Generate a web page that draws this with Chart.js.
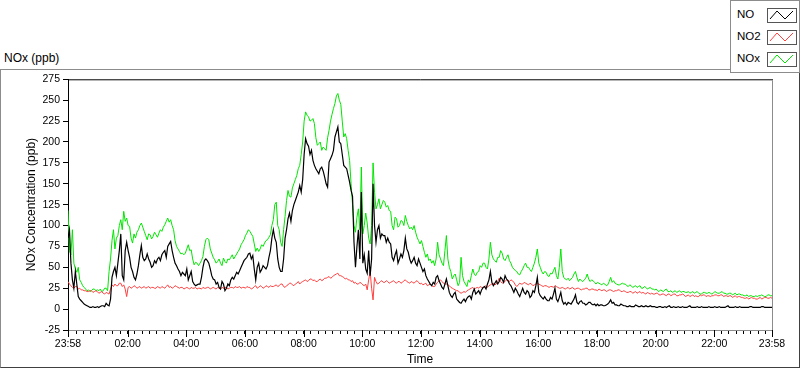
<!DOCTYPE html>
<html>
<head>
<meta charset="utf-8">
<script src="https://cdn.jsdelivr.net/npm/chart.js@4"></script>
<style>
  body { margin: 0; width: 800px; height: 369px; background: #fff; position: relative; overflow: hidden;
         font-family: "Liberation Sans", Arial, sans-serif; color: #000; }
  #title { position: absolute; left: 4px; top: 51px; font-size: 12px; }
  #frame { position: absolute; left: 0; top: 69px; width: 800px; height: 299px; box-sizing: border-box;
           border-top: 1px solid #8c8c8c; border-left: 1px solid #8c8c8c;
           border-right: 1px solid #404040; border-bottom: 1px solid #404040; }
  #chart { position: absolute; left: 0; top: 70px; }
  #legend { position: absolute; left: 730px; top: 0; width: 70px; height: 73px; box-sizing: border-box;
            border: 1px solid #8c8c8c; background: #fff; }
  .row { position: absolute; left: 0; width: 68px; height: 18px; }
  .row span { position: absolute; left: 6px; top: 2px; font-size: 11.5px; }
  .row canvas { position: absolute; left: 36px; top: 0; }
</style>
</head>
<body>
<div id="title">NOx (ppb)</div>
<div id="frame"></div>
<canvas id="chart" width="798" height="297"></canvas>
<div id="legend"></div>

<script>
// === DATA (3-minute steps from 23:58 to 23:58, one row = one hour) ===
const seriesNames = ["NO", "NO2", "NOx"];
const seriesColors = ["#000000", "#ff4040", "#00e600"];

const noValues = [
  85, 95, 55, 35, 25, 45, 30, 15, 12, 10, 8, 6, 5, 4, 3, 2, 2, 3, 2, 2,
  3, 2, 3, 4, 4, 3, 7, 5, 4, 12, 38, 45, 50, 40, 55, 70, 90, 40, 35, 70,
  80, 70, 62, 50, 45, 38, 35, 42, 52, 65, 76, 62, 58, 60, 66, 60, 56, 50, 52, 58,
  55, 60, 62, 58, 65, 68, 70, 62, 75, 78, 81, 70, 62, 55, 52, 48, 45, 40, 44, 42,
  40, 48, 35, 40, 45, 33, 30, 28, 29, 30, 30, 38, 50, 58, 60, 58, 55, 48, 40, 36,
  35, 30, 32, 26, 24, 33, 30, 22, 25, 30, 28, 35, 38, 36, 40, 44, 42, 46, 50, 54,
  58, 60, 62, 66, 67, 60, 64, 48, 35, 50, 55, 44, 47, 52, 50, 48, 52, 62, 70, 85,
  95, 85, 80, 60, 50, 45, 45, 60, 85, 95, 108, 115, 105, 118, 125, 130, 135, 140, 148, 140,
  155, 185, 204, 198, 195, 185, 190, 178, 172, 168, 165, 162, 168, 170, 165, 158, 150, 146, 176, 180,
  184, 190, 206, 212, 218, 200, 198, 185, 172, 170, 168, 160, 152, 142, 135, 80, 50, 75, 95, 60,
  140, 55, 65, 48, 43, 70, 40, 60, 150, 100, 80, 95, 100, 85, 90, 88, 88, 80, 85, 80,
  78, 62, 58, 65, 70, 55, 60, 66, 62, 70, 85, 72, 68, 60, 55, 58, 62, 55, 52, 60,
  55, 50, 45, 48, 40, 36, 33, 30, 28, 32, 30, 38, 40, 34, 30, 26, 24, 30, 36, 28,
  20, 16, 14, 18, 20, 12, 10, 8, 7, 10, 12, 9, 13, 15, 16, 12, 20, 24, 18, 20,
  22, 18, 23, 26, 27, 24, 30, 35, 45, 32, 28, 31, 34, 30, 33, 38, 36, 32, 40, 36,
  34, 30, 28, 24, 20, 25, 22, 18, 15, 20, 25, 20, 18, 22, 20, 14, 16, 22, 20, 28,
  38, 20, 16, 14, 12, 15, 12, 10, 10, 14, 12, 18, 25, 12, 9, 14, 20, 10, 6, 8,
  5, 8, 7, 6, 9, 12, 17, 8, 6, 9, 10, 7, 7, 5, 6, 8, 8, 6, 5, 6,
  4, 6, 4, 5, 5, 4, 4, 5, 6, 8, 11, 7, 8, 5, 5, 4, 4, 6, 5, 4,
  4, 3, 3, 4, 3, 3, 3, 5, 4, 3, 3, 4, 3, 3, 4, 3, 3, 4, 3, 3,
  3, 2, 2, 3, 3, 2, 2, 3, 2, 3, 4, 2, 2, 3, 2, 2, 3, 2, 2, 3,
  2, 2, 2, 3, 4, 2, 2, 2, 2, 3, 2, 2, 3, 2, 2, 2, 2, 3, 2, 2,
  2, 3, 2, 2, 3, 2, 2, 2, 2, 3, 4, 2, 2, 2, 2, 3, 2, 2, 3, 2,
  2, 2, 2, 2, 2, 3, 3, 2, 2, 2, 2, 2, 2, 3, 3, 2, 2, 2, 2, 2,
  2
];

const no2Values = [
  33, 30, 28, 26, 25, 27, 27, 24, 25, 23, 23, 22, 22, 21, 21, 22, 22, 20, 21, 22,
  21, 19, 20, 21, 19, 18, 20, 19, 18, 24, 29, 27, 30, 28, 28, 31, 31, 27, 29, 24,
  15, 26, 27, 25, 26, 28, 27, 25, 26, 27, 25, 26, 27, 25, 26, 27, 25, 26, 26, 25,
  25, 27, 26, 25, 27, 26, 25, 27, 29, 26, 27, 25, 26, 28, 27, 26, 25, 26, 26, 24,
  25, 26, 25, 24, 26, 25, 25, 26, 24, 25, 25, 24, 26, 25, 25, 26, 26, 24, 25, 26,
  25, 24, 26, 25, 24, 26, 25, 26, 26, 24, 25, 26, 26, 25, 27, 26, 26, 27, 25, 26,
  26, 25, 27, 26, 26, 24, 25, 27, 28, 25, 26, 28, 27, 25, 26, 28, 27, 26, 28, 27,
  27, 28, 29, 27, 28, 30, 30, 27, 26, 28, 29, 31, 31, 29, 28, 30, 31, 33, 30, 32,
  33, 34, 35, 33, 34, 36, 36, 34, 35, 33, 33, 35, 36, 34, 35, 37, 37, 38, 39, 37,
  38, 40, 41, 42, 43, 40, 40, 39, 38, 36, 37, 35, 35, 33, 34, 31, 32, 30, 30, 32,
  31, 29, 28, 30, 23, 35, 45, 25, 11, 38, 33, 30, 31, 33, 34, 32, 32, 34, 33, 31,
  32, 33, 34, 32, 31, 33, 33, 31, 32, 34, 35, 33, 32, 31, 33, 32, 31, 33, 34, 32,
  30, 31, 29, 30, 31, 28, 29, 30, 28, 27, 27, 30, 32, 34, 35, 33, 31, 30, 30, 29,
  28, 26, 25, 24, 23, 22, 22, 20, 19, 20, 21, 20, 22, 23, 24, 25, 26, 24, 25, 26,
  25, 27, 26, 25, 27, 28, 26, 28, 29, 30, 31, 29, 30, 33, 37, 33, 31, 32, 33, 35,
  34, 33, 35, 34, 32, 29, 27, 29, 31, 30, 30, 32, 31, 30, 29, 31, 30, 28, 29, 30,
  31, 30, 29, 28, 27, 28, 28, 27, 26, 27, 27, 26, 28, 27, 26, 25, 25, 26, 25, 24,
  25, 26, 24, 25, 26, 24, 24, 25, 25, 24, 23, 24, 24, 25, 25, 23, 23, 24, 24, 23,
  23, 22, 24, 23, 22, 23, 23, 21, 22, 23, 23, 22, 21, 22, 22, 23, 23, 21, 21, 22,
  21, 20, 20, 21, 21, 19, 20, 21, 19, 20, 21, 19, 20, 19, 18, 20, 19, 18, 19, 18,
  18, 19, 19, 17, 17, 18, 18, 17, 16, 18, 18, 16, 17, 18, 18, 16, 16, 17, 17, 18,
  17, 15, 16, 17, 15, 16, 17, 15, 16, 15, 15, 17, 16, 17, 17, 15, 16, 16, 15, 16,
  16, 17, 17, 16, 16, 17, 17, 15, 16, 16, 15, 16, 16, 14, 15, 16, 14, 15, 15, 14,
  14, 13, 13, 14, 12, 13, 14, 13, 13, 12, 12, 13, 14, 12, 13, 14, 14, 13, 13, 14,
  13
];

const noxValues = [
  118, 70, 65, 95, 55, 48, 44, 50, 35, 32, 28, 26, 24, 22, 23, 21, 22, 24, 24, 22,
  23, 22, 24, 21, 22, 25, 25, 22, 45, 60, 82, 95, 72, 85, 88, 100, 107, 95, 117, 105,
  109, 100, 99, 85, 79, 90, 85, 92, 95, 100, 103, 98, 93, 88, 83, 90, 89, 84, 87, 92,
  89, 86, 91, 95, 93, 98, 101, 105, 109, 104, 107, 100, 95, 82, 75, 72, 69, 66, 67, 65,
  67, 72, 77, 70, 71, 60, 53, 56, 55, 52, 55, 58, 63, 75, 83, 85, 83, 72, 67, 62,
  59, 55, 57, 60, 55, 52, 61, 57, 55, 60, 59, 62, 65, 60, 63, 66, 69, 72, 77, 80,
  83, 88, 91, 95, 93, 90, 87, 78, 69, 73, 69, 72, 77, 75, 79, 82, 83, 86, 89, 100,
  107, 125, 128, 100, 95, 80, 75, 95, 111, 130, 142, 135, 134, 145, 150, 155, 160, 168, 172, 185,
  200, 225, 236, 232, 230, 225, 226, 228, 222, 205, 196, 198, 200, 190, 194, 192, 190, 205, 214, 225,
  233, 240, 246, 255, 258, 250, 245, 225, 206, 210, 204, 190, 178, 150, 125, 100, 92, 110, 120, 95,
  170, 90, 100, 115, 103, 85, 78, 100, 175, 140, 120, 125, 132, 120, 125, 130, 128, 122, 124, 118,
  117, 100, 95, 110, 108, 98, 100, 106, 105, 100, 112, 105, 100, 96, 98, 95, 100, 92, 86, 82,
  78, 82, 75, 68, 62, 66, 58, 60, 55, 58, 52, 60, 80, 65, 60, 55, 52, 70, 88, 60,
  50, 45, 36, 40, 42, 35, 28, 32, 62, 40, 33, 30, 27, 35, 32, 40, 48, 42, 40, 44,
  45, 52, 50, 55, 55, 50, 48, 60, 80, 65, 60, 58, 56, 62, 62, 70, 67, 60, 58, 62,
  65, 58, 55, 50, 48, 46, 45, 42, 41, 45, 48, 52, 55, 50, 50, 47, 45, 50, 55, 62,
  72, 55, 50, 45, 42, 45, 44, 40, 39, 43, 42, 46, 50, 40, 36, 50, 72, 45, 38, 36,
  35, 37, 34, 36, 38, 42, 45, 38, 33, 36, 34, 33, 35, 37, 42, 36, 33, 35, 34, 32,
  30, 32, 31, 30, 29, 31, 30, 28, 29, 33, 38, 32, 34, 31, 30, 29, 29, 30, 31, 30,
  30, 28, 27, 29, 28, 26, 27, 28, 26, 27, 28, 25, 25, 27, 26, 24, 25, 26, 24, 24,
  23, 24, 22, 21, 23, 22, 21, 23, 24, 21, 21, 22, 20, 21, 22, 20, 21, 22, 20, 21,
  21, 20, 20, 21, 19, 20, 21, 19, 20, 21, 19, 18, 18, 20, 20, 19, 19, 20, 19, 18,
  19, 21, 20, 19, 19, 20, 21, 19, 19, 18, 18, 19, 19, 17, 18, 19, 17, 18, 18, 17,
  17, 16, 16, 17, 15, 16, 16, 15, 15, 16, 15, 16, 16, 17, 16, 15, 15, 17, 17, 16,
  16
];

// time of each sample, minutes after midnight (23:58 = -2)
const startMinute = -2;
const stepMinutes = 3;
const times = noValues.map((_, i) => startMinute + i * stepMinutes);

// x ticks: 23:58, every 15 min, 23:58
const xTickValues = [-2];
for (let m = 0; m <= 1425; m += 15) xTickValues.push(m);
xTickValues.push(1438);

const yMin = -25, yMax = 275, yStep = 25;

function timeLabel(v) {
  if (v === -2 || v === 1438) return "23:58";
  if (v > 0 && v % 120 === 0) return String(v / 60).padStart(2, "0") + ":00";
  return "";
}
function isMajor(v) {
  return v === -2 || v === 1438 || (v > 0 && v % 120 === 0);
}

// plot frame + longer major ticks
const frameLines = {
  id: "frameLines",
  afterDraw(chart) {
    const { ctx, chartArea: a } = chart;
    const xs = chart.scales.x;
    ctx.save();
    ctx.lineWidth = 1;
    ctx.strokeStyle = "#000";
    ctx.beginPath();
    ctx.moveTo(a.left, a.top + 0.5);
    ctx.lineTo(a.right + 1, a.top + 0.5);
    ctx.stroke();
    ctx.strokeStyle = "#8c8c8c";
    ctx.beginPath();
    ctx.moveTo(a.right + 0.5, a.top + 1);
    ctx.lineTo(a.right + 0.5, a.bottom);
    ctx.stroke();
    ctx.strokeStyle = "#000";
    xTickValues.filter(isMajor).forEach(v => {
      const px = Math.round(xs.getPixelForValue(v)) + 0.5;
      ctx.beginPath();
      ctx.moveTo(px, a.bottom);
      ctx.lineTo(px, a.bottom + 7);
      ctx.stroke();
    });
    ctx.restore();
  }
};

const tickFont = { family: "Liberation Sans, Arial, sans-serif", size: 10.5 };
const titleFont = { family: "Liberation Sans, Arial, sans-serif", size: 12 };

const valueLists = [noValues, no2Values, noxValues];
const datasets = seriesNames.map((name, s) => ({
  label: name,
  data: times.map((t, i) => ({ x: t, y: valueLists[s][i] })),
  borderColor: seriesColors[s],
  borderWidth: s === 0 ? 1.2 : 1,
  pointRadius: 0,
  tension: 0,
  fill: false
}));

new Chart(document.getElementById("chart").getContext("2d"), {
  type: "line",
  data: { datasets },
  options: {
    responsive: false,
    animation: false,
    layout: { padding: { top: 9, right: 26, left: 0, bottom: 0 } },
    plugins: { legend: { display: false }, tooltip: { enabled: false } },
    scales: {
      x: {
        type: "linear",
        min: -2,
        max: 1438,
        afterBuildTicks: s => { s.ticks = xTickValues.map(v => ({ value: v })); },
        afterFit: s => { s.height = 37; },
        ticks: { autoSkip: false, maxRotation: 0, padding: 4, color: "#000", font: tickFont,
                 callback: v => timeLabel(v) },
        grid: { drawOnChartArea: false, drawTicks: true, tickLength: 4, color: "#000" },
        border: { color: "#8c8c8c" },
        title: { display: true, text: "Time", color: "#000", font: titleFont, padding: { top: 0, bottom: 0 } }
      },
      y: {
        min: yMin,
        max: yMax,
        afterFit: s => { s.width = 68; },
        ticks: { stepSize: yStep, padding: 3, color: "#000", font: tickFont },
        grid: { drawOnChartArea: false, drawTicks: true, tickLength: 5, color: "#000" },
        border: { color: "#000" },
        title: { display: true, text: "NOx Concentration (ppb)", color: "#000", font: titleFont,
                 padding: { top: 24, bottom: 0 } }
      }
    }
  },
  plugins: [frameLines]
});

// legend box with zig-zag samples
const legend = document.getElementById("legend");
const rowTops = [5, 27, 49];
seriesNames.forEach((name, s) => {
  const row = document.createElement("div");
  row.className = "row";
  row.style.top = rowTops[s] + "px";
  const label = document.createElement("span");
  label.textContent = name;
  const icon = document.createElement("canvas");
  icon.width = 30; icon.height = 17;
  row.appendChild(label);
  row.appendChild(icon);
  legend.appendChild(row);
  const c = icon.getContext("2d");
  c.strokeStyle = "#555";
  c.strokeRect(0.5, 2.5, 29, 14);
  c.strokeStyle = seriesColors[s];
  c.beginPath();
  c.moveTo(3, 13);
  c.lineTo(10, 5);
  c.lineTo(18, 13);
  c.lineTo(26, 5);
  c.stroke();
});
</script>
</body>
</html>
